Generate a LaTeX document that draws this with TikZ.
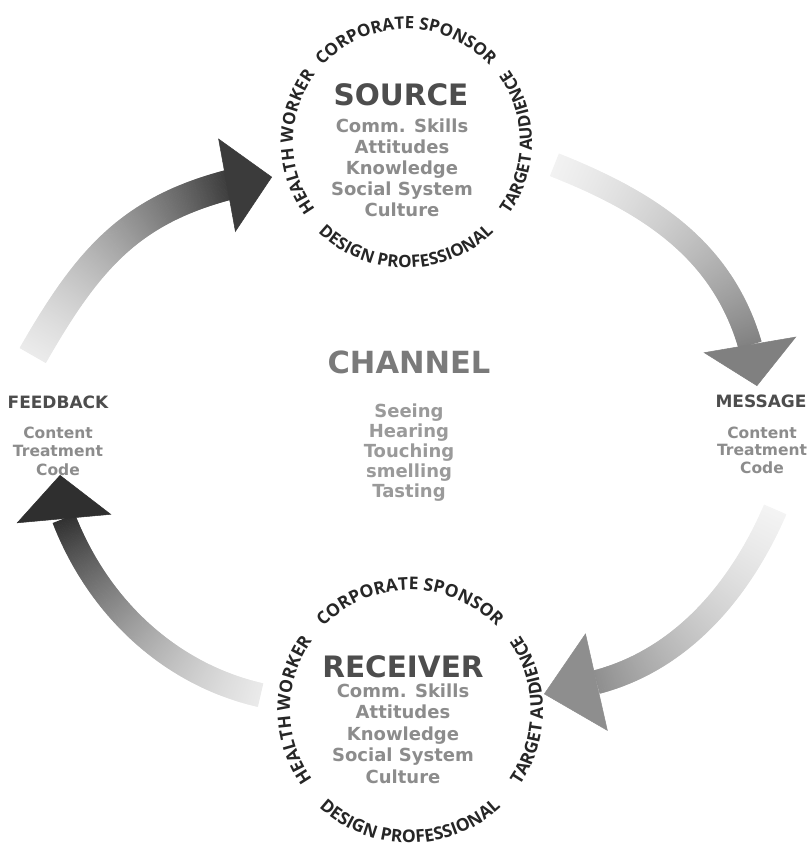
\documentclass[tikz,border=0pt]{standalone}
\usepackage{fontspec}
\setmainfont{DejaVu Sans}
\newfontfamily\ringfamily{Open Sans}
\usetikzlibrary{calc,positioning,decorations.text,decorations.markings,arrows.meta}

\definecolor{ringgray}{HTML}{262626}
\definecolor{titlegray}{HTML}{4D4D4D}
\definecolor{itemgray}{HTML}{8C8C8C}
\definecolor{changray}{HTML}{7A7A7A}
\definecolor{lightgray}{HTML}{9A9A9A}
\definecolor{arrowA}{HTML}{3B3B3B}
\definecolor{arrowB}{HTML}{808080}
\definecolor{arrowC}{HTML}{8E8E8E}
\definecolor{arrowD}{HTML}{2F2F2F}

\tikzset{
  headline/.style={anchor=base,inner sep=0pt,text=titlegray,font=\bfseries\fontsize{29.5}{32}\selectfont},
  item/.style={anchor=base,inner sep=0pt,text=itemgray,font=\bfseries\fontsize{18}{21}\selectfont},
  sidehead/.style={anchor=base,inner sep=0pt,text=titlegray,font=\bfseries\fontsize{17}{20}\selectfont},
  sideitem/.style={anchor=base,inner sep=0pt,text=itemgray,font=\bfseries\fontsize{15.5}{18}\selectfont},
  ringtext/.style 2 args={decorate,decoration={text along path,text align=center,text color=ringgray,
    text={|\ringfamily\bfseries\fontsize{#1}{#1}\selectfont|#2}}},
  shaft/.style n args={3}{decorate,decoration={markings,
    mark=between positions 0 and 1 step 0.7pt with {
      \pgfmathsetmacro\mixval{10+45*(\pgfkeysvalueof{/pgf/decoration/mark info/distance from start}/\pgfdecoratedpathlength)+45*(\pgfkeysvalueof{/pgf/decoration/mark info/distance from start}/\pgfdecoratedpathlength)^2}
      \fill[#1!\mixval!#2] (-0.6pt,-#3) rectangle (0.6pt,#3);}}},
  head/.style={#1,line width=0.5pt}
}

\begin{document}
\begin{tikzpicture}[x=1pt,y=1pt]
\useasboundingbox (0,0) rectangle (811,-849);
\fill[white] (0,0) rectangle (811,-849);

% ring centres
\coordinate (srcC) at (406,-142);
\coordinate (rcvC) at (410,-710);

% words round the two rings
\foreach \c/\ri/\ro/\fs in {srcC/113/126/17,rcvC/120/133/17.5}{
\path[ringtext={\fs}{CORPORATE SPONSOR}] (\c) ++(150:\ri) arc[start angle=150,end angle=30,radius=\ri];
\path[ringtext={\fs}{HEALTH WORKER}] (\c) ++(240:\ri) arc[start angle=240,end angle=120,radius=\ri];
\path[ringtext={\fs}{TARGET AUDIENCE}] (\c) ++(-60:\ro) arc[start angle=-60,end angle=60,radius=\ro];
\path[ringtext={\fs}{DESIGN PROFESSIONAL}] (\c) ++(-150:\ro) arc[start angle=-150,end angle=-30,radius=\ro];
}

% source
\node[headline] (srcT) at (401,-105) {SOURCE};
\foreach \t [count=\i] in {Comm. Skills,Attitudes,Knowledge,Social System,Culture}
\node[item] (srcL\i) at (402,{-132-21*(\i-1)}) {\t};

% receiver
\node[headline] (rcvT) at (403,-677) {RECEIVER};
\foreach \t [count=\i] in {Comm. Skills,Attitudes,Knowledge,Social System,Culture}
\node[item] (rcvL\i) at (403,{-697-21.5*(\i-1)}) {\t};

% channel
\node[headline,text=changray,font=\bfseries\fontsize{30.5}{33}\selectfont] (chT) at (409,-373) {CHANNEL};
\foreach \t [count=\i] in {Seeing,Hearing,Touching,smelling,Tasting}
\node[item,text=lightgray,font=\bfseries\fontsize{18}{20}\selectfont] (chL\i) at (409,{-417-20*(\i-1)}) {\t};

% feedback and message
\node[sidehead] (fbT) at (58,-408) {FEEDBACK};
\foreach \t [count=\i] in {Content,Treatment,Code}
\node[sideitem] (fbL\i) at (58,{-438-18.5*(\i-1)}) {\t};
\node[sidehead] (msgT) at (761,-407) {MESSAGE};
\foreach \t [count=\i] in {Content,Treatment,Code}
\node[sideitem] (msgL\i) at (762,{-438-17.5*(\i-1)}) {\t};

% arrow ends
\coordinate (fbTail) at (33,-355);
\coordinate (fbBase) at (228,-185);
\coordinate (fbTip) at (272,-177);
\coordinate (srcTail) at (555,-165);
\coordinate (srcBase) at (750,-345);
\coordinate (srcTip) at (757,-386);
\coordinate (msgTail) at (775,-510);
\coordinate (msgBase) at (597,-682);
\coordinate (msgTip) at (544,-694);
\coordinate (rcvTail) at (260,-695);
\coordinate (rcvBase) at (64,-519);
\coordinate (rcvTip) at (60,-475);

% shafts
\path[shaft={arrowA}{white}{15pt}] (fbTail) .. controls (88,-259) and (130,-211) .. (fbBase);
\path[shaft={arrowB}{white}{12pt}] (srcTail) .. controls (648,-202) and (722,-249) .. (srcBase);
\path[shaft={arrowC}{white}{12pt}] (msgTail) .. controls (739,-593) and (680,-660) .. (msgBase);
\path[shaft={arrowD}{white}{12pt}] (rcvTail) .. controls (173,-675) and (100,-611) .. (rcvBase);

% heads
\draw[head=arrowA,-{Triangle[length=46pt,width=95pt]}] (fbBase) -- (fbTip);
\draw[head=arrowB,-{Triangle[length=42pt,width=94pt]}] (srcBase) -- (srcTip);
\draw[head=arrowC,-{Triangle[length=54pt,width=100pt]}] (msgBase) -- (msgTip);
\draw[head=arrowD,-{Triangle[length=44pt,width=95pt]}] (rcvBase) -- (rcvTip);
\end{tikzpicture}
\end{document}
